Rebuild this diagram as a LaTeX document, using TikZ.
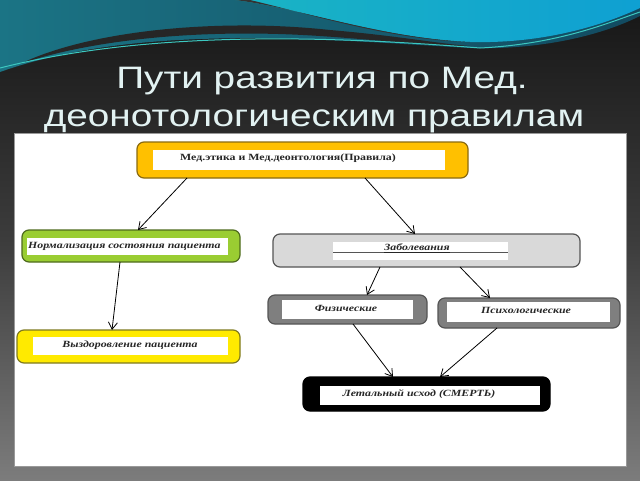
\documentclass[tikz,border=0pt]{standalone}
\usepackage{fontspec}
\setmainfont{Liberation Serif}
\newfontfamily\titlefont{Liberation Sans}
\usetikzlibrary{arrows.meta}
\definecolor{bgtop}{HTML}{161616}
\definecolor{bgmid}{HTML}{3C3C3C}
\definecolor{bgbot}{HTML}{7C7C7C}
\definecolor{tealA}{HTML}{1B7485}
\definecolor{tealB}{HTML}{124A60}
\definecolor{cyanA}{HTML}{1AB4C4}
\definecolor{cyanB}{HTML}{0FA0D2}
\definecolor{cyanline}{HTML}{3CC8C0}
\definecolor{titlecol}{HTML}{E2F2F2}
\definecolor{orangefill}{HTML}{FFC000}
\definecolor{orangeline}{HTML}{8A6A10}
\definecolor{limefill}{HTML}{9ACD32}
\definecolor{limeline}{HTML}{4F6B1E}
\definecolor{lgray}{HTML}{D9D9D9}
\definecolor{dgray}{HTML}{7F7F7F}
\definecolor{grayline}{HTML}{555555}
\definecolor{yelfill}{HTML}{FFEA00}
\definecolor{yelline}{HTML}{7F7A20}
\newcommand{\hs}[1]{\scalebox{1.25}[1]{#1}}
\tikzset{
  outerbox/.style={rounded corners=7pt, line width=1.2pt, inner sep=0pt, outer sep=0pt, anchor=center},
  innerbox/.style={fill=white, draw=none, inner sep=0pt, outer sep=0pt, anchor=center},
  lbl/.style={inner sep=0pt, font=\fontsize{9.5}{11}\selectfont\bfseries\itshape, text=black!85},
  arr/.style={line width=0.8pt, -{Straight Barb[length=7pt,width=9pt,line width=0.8pt]}},
  ttl/.style={inner sep=0pt, text=titlecol, font=\titlefont\fontsize{31}{36}\selectfont, anchor=base}
}
\begin{document}
\begin{tikzpicture}[x=1pt,y=-1pt]
\useasboundingbox (0,0) rectangle (640,480);
% background
\shade[top color=bgtop, bottom color=bgbot, middle color=bgmid] (0,0) rectangle (640,480);
% waves
\shade[left color=tealA, right color=tealB] (0,0) -- (640,0) -- (640,16) .. controls (600,36) and (540,50) .. (470,48) .. controls (330,40) and (140,22) .. (0,72) -- cycle;
\fill[black!85] (20,64) .. controls (90,30) and (220,18) .. (330,30) .. controls (400,36) and (440,44) .. (470,46) .. controls (430,46) and (380,40) .. (320,36) .. controls (200,28) and (90,40) .. (20,64) -- cycle;
\shade[left color=cyanA, right color=cyanB] (235,0) .. controls (300,8) and (380,38) .. (470,42) .. controls (550,44) and (610,22) .. (640,8) -- (640,0) -- cycle;
\fill[black!80] (235,0) .. controls (300,8) and (380,38) .. (470,42) .. controls (390,40) and (310,14) .. (250,0) -- cycle;
\draw[cyanline, line width=1pt] (0,68) .. controls (150,30) and (330,36) .. (480,48) .. controls (560,44) and (610,22) .. (640,12);
% title
\node[ttl] (t1) at (322,88) {\hs{Пути развития по Мед.}};
\node[ttl] (t2) at (314,126) {\hs{деонотологическим правилам}};
% panel
\node[fill=white, draw=black!40, line width=0.5pt, minimum width=612pt, minimum height=333pt, inner sep=0pt, anchor=north west] (panel) at (14,133) {};
% boxes
\node[outerbox, fill=orangefill, draw=orangeline, minimum width=331pt, minimum height=36pt] (top) at (302.5,160) {};
\node[innerbox, minimum width=292pt, minimum height=20pt] (topin) at (299,160) {};
\node[lbl, font=\fontsize{9.5}{11}\selectfont\bfseries] (toptxt) at (288,158) {\hs{Мед.этика и Мед.деонтология(Правила)}};

\node[outerbox, fill=limefill, draw=limeline, minimum width=218pt, minimum height=32pt] (norm) at (131,246) {};
\node[innerbox, minimum width=201pt, minimum height=17pt] (normin) at (127.5,246.5) {};
\node[lbl, anchor=west] (normtxt) at (28,246) {\hs{Нормализация состояния пациента}};

\node[outerbox, fill=lgray, draw=grayline, minimum width=307pt, minimum height=33pt] (zab) at (426.5,250.5) {};
\node[innerbox, minimum width=175pt, minimum height=18pt] (zabin) at (420.5,251) {};
\draw[grayline, line width=0.8pt] ([yshift=-1pt]zabin.west) -- ([yshift=-1pt]zabin.east);
\node[lbl] (zabtxt) at (417,248) {\hs{\underline{Заболевания}}};

\node[outerbox, fill=dgray, draw=grayline, minimum width=159pt, minimum height=29pt] (fiz) at (347.5,309.5) {};
\node[innerbox, minimum width=131pt, minimum height=19pt] (fizin) at (347.5,309.5) {};
\node[lbl] (fiztxt) at (346,308) {\hs{Физические}};

\node[outerbox, fill=dgray, draw=grayline, minimum width=182pt, minimum height=30pt] (psy) at (529,313) {};
\node[innerbox, minimum width=163pt, minimum height=20pt] (psyin) at (528.5,312) {};
\node[lbl] (psytxt) at (526,310) {\hs{Психологические}};

\node[outerbox, fill=yelfill, draw=yelline, minimum width=223pt, minimum height=33pt] (vyz) at (128.5,346.5) {};
\node[innerbox, minimum width=195pt, minimum height=18pt] (vyzin) at (130.5,346) {};
\node[lbl] (vyztxt) at (130,345) {\hs{Выздоровление пациента}};

\node[outerbox, fill=black, draw=black, minimum width=247pt, minimum height=34pt] (let) at (426.5,394) {};
\node[innerbox, minimum width=220pt, minimum height=19pt] (letin) at (430,395.5) {};
\node[lbl] (lettxt) at (419,394) {\hs{Летальный исход (СМЕРТЬ)}};
% arrows
\draw[arr] ([xshift=50pt]top.south west) -- ([xshift=116pt]norm.north west);
\draw[arr] ([xshift=228pt]top.south west) -- ([xshift=142pt]zab.north west);
\draw[arr] ([xshift=98pt]norm.south west) -- ([xshift=95pt]vyz.north west);
\draw[arr] ([xshift=107pt]zab.south west) -- ([xshift=99pt]fiz.north west);
\draw[arr] ([xshift=187pt]zab.south west) -- ([xshift=52pt]psy.north west);
\draw[arr] ([xshift=85pt]fiz.south west) -- ([xshift=90pt]let.north west);
\draw[arr] ([xshift=59pt]psy.south west) -- ([xshift=137pt]let.north west);
\end{tikzpicture}
\end{document}
